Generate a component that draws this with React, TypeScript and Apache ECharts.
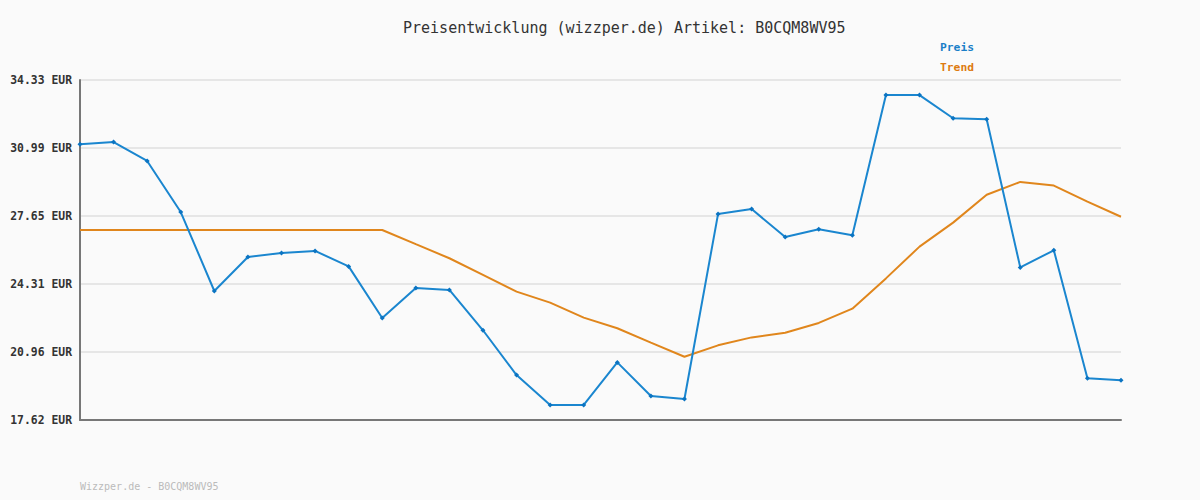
import React, { useEffect, useRef } from "react";
import * as echarts from "echarts";

const categories: string[] = Array.from({ length: 32 }, (_, i) => String(i + 1));

const preis: number[] = [
  31.17, 31.28, 30.35, 27.84, 23.96, 25.63, 25.83, 25.93, 25.17, 22.63,
  24.11, 24.01, 22.03, 19.83, 18.36, 18.36, 20.45, 18.8, 18.65, 27.74,
  27.99, 26.61, 26.99, 26.7, 33.59, 33.59, 32.45, 32.4, 25.12, 25.96,
  19.67, 19.57,
];

const trend: number[] = [
  26.96, 26.96, 26.96, 26.96, 26.96, 26.96, 26.96, 26.96, 26.96, 26.96,
  26.26, 25.57, 24.75, 23.93, 23.39, 22.65, 22.13, 21.42, 20.73, 21.29,
  21.68, 21.91, 22.39, 23.09, 24.58, 26.14, 27.32, 28.69, 29.32, 29.14,
  28.35, 27.61,
];

const yTicks: number[] = [17.62, 20.96, 24.31, 27.65, 30.99, 34.33];

const titleText = "Preisentwicklung (wizzper.de) Artikel: B0CQM8WV95";
const footerText = "Wizzper.de - B0CQM8WV95";

const MONO = "'DejaVu Sans Mono', monospace";
const BLUE = "#1a86cf";
const ORANGE = "#e0861c";

export default function App() {
  const ref = useRef<HTMLDivElement>(null);
  useEffect(() => {
    if (!ref.current) return;
    const chart = echarts.init(ref.current, null, { renderer: "svg" });
    chart.setOption({
      animation: false,
      backgroundColor: "#fafafa",
      title: {
        text: titleText,
        left: 398,
        top: 15,
        textStyle: { fontFamily: MONO, fontSize: 15, fontWeight: "normal", color: "#333" },
      },
      legend: {
        orient: "vertical",
        left: 935,
        top: 40,
        padding: 0,
        icon: "none",
        itemWidth: 0,
        itemHeight: 14,
        itemGap: 8,
        selectedMode: false,
        data: [
          { name: "Preis", textStyle: { color: "#1a7fc8" } },
          { name: "Trend", textStyle: { color: "#dd7a10" } },
        ],
        textStyle: { fontFamily: MONO, fontSize: 11.3, fontWeight: "bold", padding: 0 },
      },
      graphic: [
        {
          type: "text",
          left: 80,
          top: 481,
          style: { text: footerText, fontFamily: MONO, fontSize: 10, fill: "#bbbbbb" },
        },
      ],
      grid: { left: 80, right: 79, top: 80, bottom: 80, containLabel: false },
      xAxis: {
        type: "category",
        data: categories,
        boundaryGap: false,
        axisLine: { lineStyle: { color: "#777", width: 2 } },
        axisTick: { show: false },
        axisLabel: { show: false },
        splitLine: { show: false },
      },
      yAxis: {
        type: "value",
        min: 17.62,
        max: 34.33,
        axisLine: { show: true, lineStyle: { color: "#777", width: 2 } },
        axisTick: { show: false, customValues: yTicks },
        axisLabel: {
          customValues: yTicks,
          margin: 8,
          fontFamily: MONO,
          fontSize: 11.4,
          fontWeight: "bold",
          color: "#333",
          formatter: (v: number) => v.toFixed(2) + " EUR",
        },
        splitLine: { show: true, customValues: yTicks, lineStyle: { color: "#e6e6e6", width: 2 } },
      },
      series: [
        {
          name: "Preis",
          type: "line",
          data: preis,
          color: BLUE,
          symbol: "diamond",
          symbolSize: 5,
          itemStyle: { color: "#0b74c2" },
          lineStyle: { color: BLUE, width: 2 },
          z: 3,
        },
        {
          name: "Trend",
          type: "line",
          data: trend,
          color: ORANGE,
          showSymbol: false,
          symbol: "none",
          lineStyle: { color: ORANGE, width: 2 },
          z: 2,
        },
      ],
    });
    return () => chart.dispose();
  }, []);
  return <div ref={ref} style={{ width: 1200, height: 500, position: "absolute", left: 0, top: 0 }} />;
}
